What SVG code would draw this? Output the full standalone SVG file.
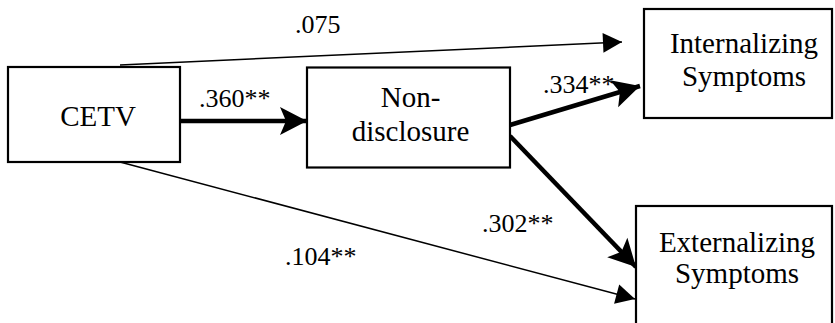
<svg xmlns="http://www.w3.org/2000/svg" width="835" height="323" viewBox="0 0 835 323">
<style>
.box{fill:#fff;stroke:#000;stroke-width:2.2}
.t{font-family:"Liberation Serif","Times New Roman",serif;font-size:29px;fill:#000;text-anchor:middle}
.l{font-family:"Liberation Serif","Times New Roman",serif;font-size:26px;fill:#000}
.thin{fill:none;stroke:#000;stroke-width:1.5}
.thick{fill:none;stroke:#000;stroke-width:4.5}
</style>
<defs>
<marker id="ah" markerUnits="userSpaceOnUse" markerWidth="22" markerHeight="22" refX="19" refY="10" orient="auto" overflow="visible">
<path d="M0,0 L19,10 L0,20 z" fill="#000"/>
</marker>
<marker id="ahb" markerUnits="userSpaceOnUse" markerWidth="30" markerHeight="30" refX="27" refY="14" orient="auto" overflow="visible">
<path d="M0,0 L27,14 L0,28 L6,14 z" fill="#000"/>
</marker>
</defs>
<g id="connectors">
<path class="thin" d="M120,65 L622,42" marker-end="url(#ah)"/>
<path class="thin" d="M120,162 L635,299" marker-end="url(#ah)"/>
<path class="thick" d="M181,121 L307,121" marker-end="url(#ahb)"/>
<path class="thick" d="M510,125 L640,86" marker-end="url(#ahb)"/>
<path class="thick" d="M510,136 L636,267" marker-end="url(#ahb)"/>
<text class="l" x="295" y="33">.075</text>
<text class="l" x="199" y="107">.360**</text>
<text class="l" x="543" y="93">.334**</text>
<text class="l" x="482" y="232">.302**</text>
<text class="l" x="285" y="265">.104**</text>
</g>
<g id="cetv">
<rect class="box" x="8" y="67" width="172" height="95"/>
<text class="t" x="98" y="126">CETV</text>
</g>
<g id="nondisclosure">
<rect class="box" x="307" y="67.5" width="203" height="100"/>
<text class="t" x="410.5" y="107">Non-</text>
<text class="t" x="410.5" y="141">disclosure</text>
</g>
<g id="internalizing">
<rect class="box" x="644" y="9" width="188" height="109"/>
<text class="t" x="744" y="53">Internalizing</text>
<text class="t" x="744" y="86">Symptoms</text>
</g>
<g id="externalizing">
<rect class="box" x="636" y="206" width="196" height="130"/>
<text class="t" x="737" y="252">Externalizing</text>
<text class="t" x="737" y="283">Symptoms</text>
</g>
</svg>
